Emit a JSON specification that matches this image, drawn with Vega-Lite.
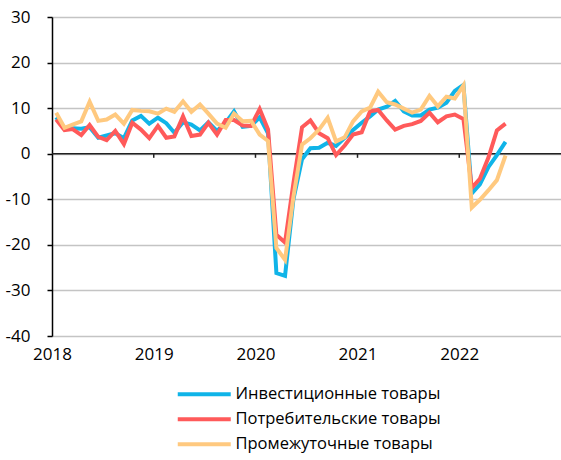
{
  "$schema": "https://vega.github.io/schema/vega-lite/v6.json",
  "width": 509,
  "height": 319,
  "autosize": {"type": "none"},
  "padding": {"left": 52, "top": 17, "right": 0, "bottom": 124},
  "background": "white",
  "config": {
    "view": {"stroke": null},
    "font": "Open Sans",
    "axis": {"labelFont": "Open Sans", "labelColor": "#000", "labelFontSize": 17}
  },
  "datasets": {
    "d": [
      {"date": "2018-01-16", "Инвестиционные товары": 8.0, "Потребительские товары": 7.5, "Промежуточные товары": 9.0},
      {"date": "2018-02-15", "Инвестиционные товары": 5.6, "Потребительские товары": 5.2, "Промежуточные товары": 5.7},
      {"date": "2018-03-16", "Инвестиционные товары": 5.6, "Потребительские товары": 5.4, "Промежуточные товары": 6.4},
      {"date": "2018-04-16", "Инвестиционные товары": 5.5, "Потребительские товары": 4.1, "Промежуточные товары": 7.1},
      {"date": "2018-05-16", "Инвестиционные товары": 5.8, "Потребительские товары": 6.3, "Промежуточные товары": 11.4},
      {"date": "2018-06-16", "Инвестиционные товары": 3.5, "Потребительские товары": 3.7, "Промежуточные товары": 7.2},
      {"date": "2018-07-16", "Инвестиционные товары": 4.0, "Потребительские товары": 3.0, "Промежуточные товары": 7.5},
      {"date": "2018-08-16", "Инвестиционные товары": 4.5, "Потребительские товары": 5.0, "Промежуточные товары": 8.6},
      {"date": "2018-09-16", "Инвестиционные товары": 3.4, "Потребительские товары": 2.1, "Промежуточные товары": 6.6},
      {"date": "2018-10-16", "Инвестиционные товары": 7.3, "Потребительские товары": 6.8, "Промежуточные товары": 9.6},
      {"date": "2018-11-16", "Инвестиционные товары": 8.3, "Потребительские товары": 5.3, "Промежуточные товары": 9.4},
      {"date": "2018-12-16", "Инвестиционные товары": 6.6, "Потребительские товары": 3.4, "Промежуточные товары": 9.3},
      {"date": "2019-01-16", "Инвестиционные товары": 7.9, "Потребительские товары": 6.1, "Промежуточные товары": 8.8},
      {"date": "2019-02-15", "Инвестиционные товары": 6.7, "Потребительские товары": 3.5, "Промежуточные товары": 9.9},
      {"date": "2019-03-16", "Инвестиционные товары": 4.6, "Потребительские товары": 3.8, "Промежуточные товары": 9.2},
      {"date": "2019-04-16", "Инвестиционные товары": 6.9, "Потребительские товары": 8.2, "Промежуточные товары": 11.5},
      {"date": "2019-05-16", "Инвестиционные товары": 6.4, "Потребительские товары": 3.9, "Промежуточные товары": 9.2},
      {"date": "2019-06-16", "Инвестиционные товары": 5.1, "Потребительские товары": 4.2, "Промежуточные товары": 10.8},
      {"date": "2019-07-16", "Инвестиционные товары": 6.9, "Потребительские товары": 6.8, "Промежуточные товары": 8.8},
      {"date": "2019-08-16", "Инвестиционные товары": 5.0, "Потребительские товары": 4.2, "Промежуточные товары": 6.6},
      {"date": "2019-09-16", "Инвестиционные товары": 6.8, "Потребительские товары": 7.4, "Промежуточные товары": 5.7},
      {"date": "2019-10-16", "Инвестиционные товары": 9.3, "Потребительские товары": 7.4, "Промежуточные товары": 8.8},
      {"date": "2019-11-16", "Инвестиционные товары": 5.9, "Потребительские товары": 6.2, "Промежуточные товары": 7.1},
      {"date": "2019-12-16", "Инвестиционные товары": 6.1, "Потребительские товары": 6.1, "Промежуточные товары": 7.2},
      {"date": "2020-01-16", "Инвестиционные товары": 8.0, "Потребительские товары": 9.8, "Промежуточные товары": 4.2},
      {"date": "2020-02-15", "Инвестиционные товары": 4.5, "Потребительские товары": 5.3, "Промежуточные товары": 2.8},
      {"date": "2020-03-16", "Инвестиционные товары": -26.2, "Потребительские товары": -17.8, "Промежуточные товары": -20.7},
      {"date": "2020-04-16", "Инвестиционные товары": -26.8, "Потребительские товары": -19.5, "Промежуточные товары": -23.3},
      {"date": "2020-05-16", "Инвестиционные товары": -10.0, "Потребительские товары": -6.5, "Промежуточные товары": -9.5},
      {"date": "2020-06-16", "Инвестиционные товары": -1.2, "Потребительские товары": 5.8, "Промежуточные товары": 2.0},
      {"date": "2020-07-16", "Инвестиционные товары": 1.2, "Потребительские товары": 7.3, "Промежуточные товары": 3.4},
      {"date": "2020-08-16", "Инвестиционные товары": 1.3, "Потребительские товары": 4.5, "Промежуточные товары": 5.3},
      {"date": "2020-09-16", "Инвестиционные товары": 2.4, "Потребительские товары": 3.4, "Промежуточные товары": 7.9},
      {"date": "2020-10-16", "Инвестиционные товары": 1.7, "Потребительские товары": -0.3, "Промежуточные товары": 2.7},
      {"date": "2020-11-16", "Инвестиционные товары": 3.5, "Потребительские товары": 1.8, "Промежуточные товары": 3.6},
      {"date": "2020-12-16", "Инвестиционные товары": 5.2, "Потребительские товары": 4.2, "Промежуточные товары": 7.1},
      {"date": "2021-01-16", "Инвестиционные товары": 6.8, "Потребительские товары": 4.7, "Промежуточные товары": 9.3},
      {"date": "2021-02-15", "Инвестиционные товары": 8.2, "Потребительские товары": 9.3, "Промежуточные товары": 10.1},
      {"date": "2021-03-16", "Инвестиционные товары": 9.7, "Потребительские товары": 9.6, "Промежуточные товары": 13.6},
      {"date": "2021-04-16", "Инвестиционные товары": 10.3, "Потребительские товары": 7.3, "Промежуточные товары": 11.3},
      {"date": "2021-05-16", "Инвестиционные товары": 11.6, "Потребительские товары": 5.3, "Промежуточные товары": 10.8},
      {"date": "2021-06-16", "Инвестиционные товары": 9.3, "Потребительские товары": 6.1, "Промежуточные товары": 9.9},
      {"date": "2021-07-16", "Инвестиционные товары": 8.4, "Потребительские товары": 6.5, "Промежуточные товары": 9.0},
      {"date": "2021-08-16", "Инвестиционные товары": 8.4, "Потребительские товары": 7.2, "Промежуточные товары": 9.7},
      {"date": "2021-09-16", "Инвестиционные товары": 9.7, "Потребительские товары": 9.0, "Промежуточные товары": 12.7},
      {"date": "2021-10-16", "Инвестиционные товары": 10.1, "Потребительские товары": 6.9, "Промежуточные товары": 10.4},
      {"date": "2021-11-16", "Инвестиционные товары": 11.2, "Потребительские товары": 8.2, "Промежуточные товары": 12.5},
      {"date": "2021-12-16", "Инвестиционные товары": 13.8, "Потребительские товары": 8.6, "Промежуточные товары": 12.1},
      {"date": "2022-01-16", "Инвестиционные товары": 15.1, "Потребительские товары": 7.6, "Промежуточные товары": 15.0},
      {"date": "2022-02-15", "Инвестиционные товары": -8.7, "Потребительские товары": -7.5, "Промежуточные товары": -11.8},
      {"date": "2022-03-16", "Инвестиционные товары": -6.7, "Потребительские товары": -5.5, "Промежуточные товары": -10.1},
      {"date": "2022-04-16", "Инвестиционные товары": -2.9, "Потребительские товары": -0.8, "Промежуточные товары": -8.0},
      {"date": "2022-05-16", "Инвестиционные товары": -0.3, "Потребительские товары": 5.1, "Промежуточные товары": -5.8},
      {"date": "2022-06-16", "Инвестиционные товары": 2.6, "Потребительские товары": 6.6, "Промежуточные товары": -0.4}
    ]
  },
  "layer": [
    {
      "data": {"values": [{"value": 0}]},
      "mark": {"type": "rule", "color": "#222", "strokeWidth": 1.5},
      "encoding": {"y": {"field": "value", "type": "quantitative"}}
    },
    {
      "data": {"values": [{"date": "2019-01-01"}, {"date": "2020-01-01"}, {"date": "2021-01-01"}, {"date": "2022-01-01"}]},
      "mark": {"type": "rule", "color": "#222", "strokeWidth": 1.5},
      "encoding": {
        "x": {"field": "date", "type": "temporal"},
        "y": {"datum": 0, "type": "quantitative"},
        "y2": {"datum": -0.9}
      }
    },
    {
      "data": {"name": "d"},
      "transform": [
        {"fold": ["Инвестиционные товары", "Потребительские товары", "Промежуточные товары"], "as": ["series", "value"]}
      ],
      "mark": {"type": "line", "strokeWidth": 4, "strokeJoin": "miter", "strokeCap": "butt"},
      "encoding": {
        "x": {
          "field": "date", "type": "temporal",
          "scale": {"type": "utc", "domain": [{"year": 2018, "month": 1, "date": 1, "utc": true}, {"year": 2023, "month": 1, "date": 1, "utc": true}]},
          "axis": {
            "title": null, "domain": false, "ticks": false, "grid": false,
            "values": [{"year": 2018, "utc": true}, {"year": 2019, "utc": true}, {"year": 2020, "utc": true}, {"year": 2021, "utc": true}, {"year": 2022, "utc": true}],
            "format": "%Y", "labelPadding": 10, "labelFlush": false,
            "encode": {"labels": {"update": {"dx": {"signal": "1 - 7.3 * (utcyear(datum.value) - 2018)"}}}}
          }
        },
        "y": {
          "field": "value", "type": "quantitative",
          "scale": {"domain": [-40, 30], "nice": false, "zero": false},
          "axis": {
            "title": null, "values": [-40, -30, -20, -10, 0, 10, 20, 30],
            "labelExpr": "'' + datum.value",
            "grid": true, "gridColor": "#c4c4c4", "gridWidth": 1.5,
            "domainColor": "#000", "domainWidth": 1.5,
            "tickColor": "#000", "tickWidth": 1.5, "tickSize": 5,
            "labelPadding": 17
          }
        },
        "color": {
          "field": "series", "type": "nominal",
          "scale": {"domain": ["Инвестиционные товары", "Потребительские товары", "Промежуточные товары"], "range": ["#10b4e8", "#ff5a5a", "#ffc97f"]},
          "legend": {
            "orient": "none", "legendX": 144, "legendY": 369, "title": null,
            "symbolType": "M-5.3,0H5.3", "symbolSize": 100, "symbolStrokeWidth": 4,
            "labelFontSize": 16.5, "labelFont": "Open Sans", "labelColor": "#000", "labelLimit": 400,
            "labelOffset": 23, "rowPadding": 8, "padding": 0
          }
        }
      }
    }
  ]
}
